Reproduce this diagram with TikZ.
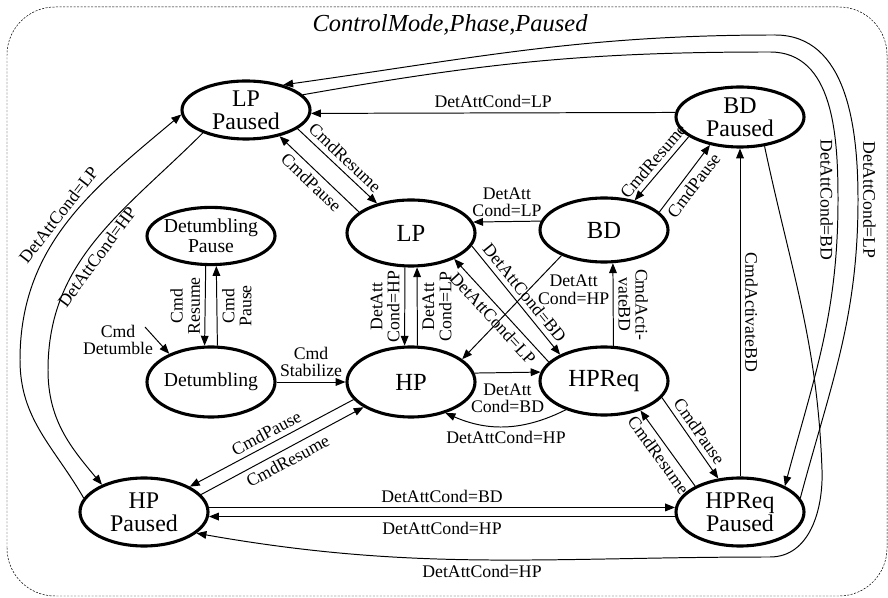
\documentclass[tikz,border=0pt]{standalone}
\usepackage{fontspec}
\setmainfont{Liberation Serif}
\usetikzlibrary{shapes.geometric,arrows.meta}
\tikzset{
    mode/.style={ellipse,draw,line width=2.2pt,inner sep=0pt,minimum width=3.2cm,minimum height=1.65cm,align=center,font=\fontsize{17.5}{16.5}\selectfont},
    paused/.style={mode,minimum height=1.6cm,font=\fontsize{17}{16.5}\selectfont},
    detum/.style={mode,inner xsep=-4pt,font=\fontsize{14}{14.2}\selectfont},
    edge/.style={-{Triangle[length=7pt,width=5.5pt]},line width=0.7pt,font=\fontsize{12.6}{12.2}\selectfont,nodes={align=center}},
    border/.style={draw,dash pattern=on 1.5pt off 1pt,line width=0.35pt,rounded corners=1.2cm}
}

\begin{document}
\begin{tikzpicture}
\useasboundingbox (0,0) rectangle (22.2,14.925);
\draw[border] (0.175,0.025) rectangle (22.175,14.75);
\node[font=\fontsize{17.4}{17}\selectfont\itshape] (title) at (11.25,14.3) {ControlMode,Phase,Paused};

\node[paused,minimum height=1.45cm] (LPP) at (6.15,12.175) {LP\\Paused};
\node[paused,minimum height=1.5cm] (BDP) at (18.5,12.0) {BD\\Paused};
\node[mode] (LP) at (10.275,9.1) {LP};
\node[mode,minimum height=1.6cm] (BD) at (15.1,9.175) {BD};
\node[detum,minimum height=1.43cm] (DP) at (5.275,9.025) {Detumbling\\Pause};
\node[detum,minimum height=1.75cm] (Det) at (5.275,5.375) {Detumbling};
\node[mode,minimum height=1.75cm] (HP) at (10.275,5.375) {HP};
\node[mode,minimum height=1.7cm] (HPReq) at (15.1,5.4) {HPReq};
\node[paused,minimum height=1.7cm] (HPP) at (3.6,2.125) {HP\\Paused};
\node[paused,minimum height=1.7cm] (HPReqP) at (18.5,2.125) {HPReq\\Paused};

% pause / resume
\draw[edge] (LPP.-20) -- node[sloped,above] {CmdResume} (LP.139);
\draw[edge] (LP.158) -- node[sloped,below] {CmdPause} (LPP.-38);
\draw[edge] (BDP.201) -- node[sloped,above] {CmdResume} (BD.44);
\draw[edge] (BD.18) -- node[sloped,below] {CmdPause} (BDP.223);
\draw[edge] (HP.197) -- node[sloped,above] {CmdPause} (HPP.29);
\draw[edge] (HPP.17) -- node[sloped,below] {CmdResume} (HP.208);
\draw[edge] (HPReq.-16) -- node[sloped,above] {CmdPause} (HPReqP.123);
\draw[edge] (HPReqP.150) -- node[sloped,below] {CmdResume} (HPReq.-39);

% detumbling
\coordinate (detin) at (3.625,6.75);
\node[font=\fontsize{12.6}{12.2}\selectfont,align=center] (detlbl) at (2.95,6.425) {Cmd\\Detumble};
\draw[edge] (detin) -- (Det.146);
\draw[edge] (DP.-100) -- node[rotate=90,anchor=south] {Cmd\\Resume} (Det.100);
\draw[edge] (Det.80) -- node[rotate=90,anchor=north] {Cmd\\Pause} (DP.-80);
\draw[edge] (Det) -- node[above] {Cmd\\Stabilize} (HP);

% mode changes
\draw[edge] (LP.-100) -- node[rotate=90,anchor=south] {DetAtt\\Cond=HP} (HP.100);
\draw[edge] (HP.80) -- node[rotate=90,anchor=north] {DetAtt\\Cond=LP} (LP.-80);
\draw[edge] (BD.172) -- node[above] {DetAtt\\Cond=LP} (LP.10);
\draw[edge] (BD.211) -- node[pos=0.33,right,xshift=3pt] {DetAtt\\Cond=HP} (HP.24);
\draw[edge] (LP.-12) -- node[sloped,above] {DetAttCond=BD} (HPReq.149);
\draw[edge] (HPReq.161) -- node[sloped,below] {DetAttCond=LP} (LP.-31);
\draw[edge] (HP.8) -- node[below,yshift=-4pt] {DetAtt\\Cond=BD} (HPReq.172);
\draw[edge] (HPReq.217) to[bend left=25] node[below] {DetAttCond=HP} (HP.-42);
\draw[edge] (HPReq.75) -- node[rotate=-90,anchor=south] {CmdActi-\\vateBD} (BD.-75);

% paused mode changes
\draw[edge] (BDP.176) -- node[above] {DetAttCond=LP} (LPP.-3);
\draw[edge] (HPP.4) -- node[above] {DetAttCond=BD} (HPReqP.176);
\draw[edge] (HPReqP.-176) -- node[below] {DetAttCond=HP} (HPP.-4);
\draw[edge] (HPReqP) -- node[rotate=-90,anchor=south] {CmdActivateBD} (BDP);
\draw[edge] (LPP.208) to[out=225,in=90] node[pos=0.55,sloped,below] {DetAttCond=HP} (1.2,5.675)
    to[out=-90,in=130] (HPP.147);
\draw[edge] (HPP.167) to[out=120,in=-90] (0.5,5.925)
    to[out=90,in=-140] node[pos=0.5,sloped,above] {DetAttCond=LP} (LPP.184);
\draw[edge] (BDP.-50) to[out=-78,in=92] (20.55,3.175) to[out=-88,in=0] (19.25,1.0)
    to[out=180,in=-10] node[below] {DetAttCond=HP} (HPP.-22);
\draw[edge] (LPP.15) to[out=10,in=180] (19.25,13.625) to[out=0,in=90] (20.95,9.925)
    node[rotate=-90,anchor=north] {DetAttCond=BD} to[out=-90,in=75] (HPReqP.30);
\draw[edge] (HPReqP.13) to[out=75,in=-90] (21.45,9.925) node[rotate=-90,anchor=south] {DetAttCond=LP}
    to[out=90,in=0] (19.375,14.05) to[out=180,in=8] (LPP.34);
\end{tikzpicture}
\end{document}
